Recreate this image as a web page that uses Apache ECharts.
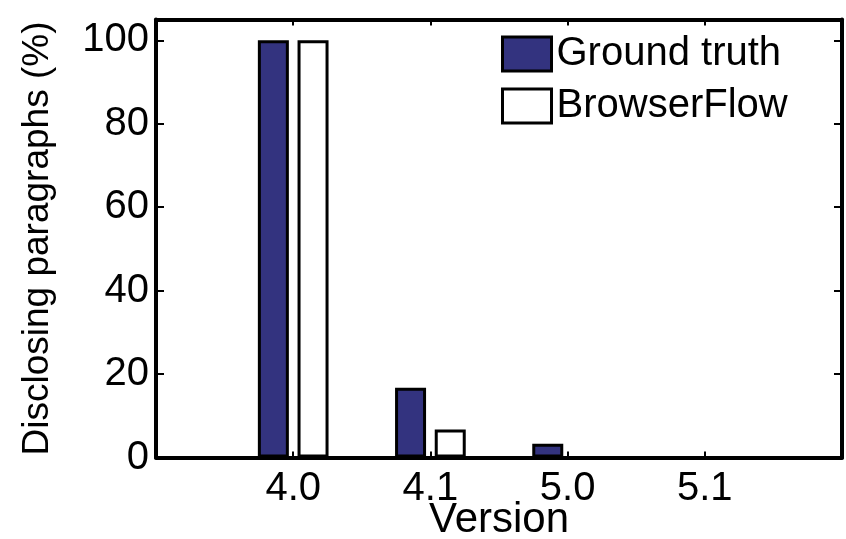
<!DOCTYPE html>
<html><head><meta charset="utf-8">
<script src="https://cdn.jsdelivr.net/npm/echarts@6/dist/echarts.min.js"></script>
<style>html,body{margin:0;padding:0;background:#fff}#c{width:846px;height:539px}</style>
</head><body><div id="c"></div>
<script>
// Data
const categories = ['4.0', '4.1', '5.0', '5.1'];
const groundTruth = [100, 16.7, 3.3, 0];
const browserFlow = [100, 6.7, 0, 0];
const yTickStep = 20;
const yMax = 105;

const FONT = "'Liberation Sans', Arial, Helvetica, sans-serif";
const chart = echarts.init(document.getElementById('c'));

const xCommon = {
  type: 'value', min: 0, max: categories.length + 1, interval: 1,
  splitLine: { show: false },
  axisLine: { show: true, onZero: false, lineStyle: { color: '#000', width: 4 } },
  axisTick: { show: true, inside: true, length: 6, lineStyle: { color: '#000', width: 2 } }
};
const yCommon = {
  type: 'value', min: 0, max: yMax, interval: yTickStep,
  splitLine: { show: false },
  axisLine: { show: true, onZero: false, lineStyle: { color: '#000', width: 4 } },
  axisTick: { show: true, inside: true, length: 8, lineStyle: { color: '#000', width: 2 } }
};

chart.setOption({
  animation: false,
  backgroundColor: '#fff',
  grid: { left: 156, right: 4, top: 19.5, bottom: 81.5, containLabel: false, outerBoundsMode: 'none' },
  legend: {
    orient: 'vertical', left: 501, top: 34, padding: 0,
    itemWidth: 49, itemHeight: 34, itemGap: 12,
    icon: 'rect',
    textStyle: { fontFamily: FONT, fontSize: 40, color: '#000' },
    itemStyle: { borderColor: '#000', borderWidth: 3 },
    data: ['Ground truth', 'BrowserFlow']
  },
  xAxis: [
    Object.assign({}, xCommon, {
      position: 'bottom',
      name: 'Version', nameLocation: 'middle', nameGap: 42, nameMoveOverlap: false,
      nameTextStyle: { fontFamily: FONT, fontSize: 42, color: '#000' },
      axisLabel: {
        fontFamily: FONT, fontSize: 40, color: '#000', margin: 11,
        formatter: v => categories[v - 1] || ''
      }
    }),
    Object.assign({}, xCommon, { position: 'top', axisLabel: { show: false } })
  ],
  yAxis: [
    Object.assign({}, yCommon, {
      position: 'left',
      name: 'Disclosing paragraphs (%)', nameLocation: 'middle', nameGap: 100, nameMoveOverlap: false,
      nameTextStyle: { fontFamily: FONT, fontSize: 37, color: '#000' },
      axisLabel: {
        fontFamily: FONT, fontSize: 40, color: '#000', margin: 7, showMaxLabel: false,
        formatter: v => (v % yTickStep === 0 ? String(v) : '')
      }
    }),
    Object.assign({}, yCommon, { position: 'right', axisLabel: { show: false } })
  ],
  series: [
    {
      name: 'Ground truth', type: 'bar', xAxisIndex: 0, yAxisIndex: 0,
      barWidth: 31, barGap: '28%',
      itemStyle: { color: '#33337f', borderColor: '#000', borderWidth: 3 },
      data: categories.map((c, i) => [i + 1, groundTruth[i]])
    },
    {
      name: 'BrowserFlow', type: 'bar', xAxisIndex: 0, yAxisIndex: 0,
      barWidth: 31, barGap: '28%',
      itemStyle: { color: '#ffffff', borderColor: '#000', borderWidth: 3 },
      data: categories.map((c, i) => [i + 1, browserFlow[i]])
    }
  ]
});
</script></body></html>
